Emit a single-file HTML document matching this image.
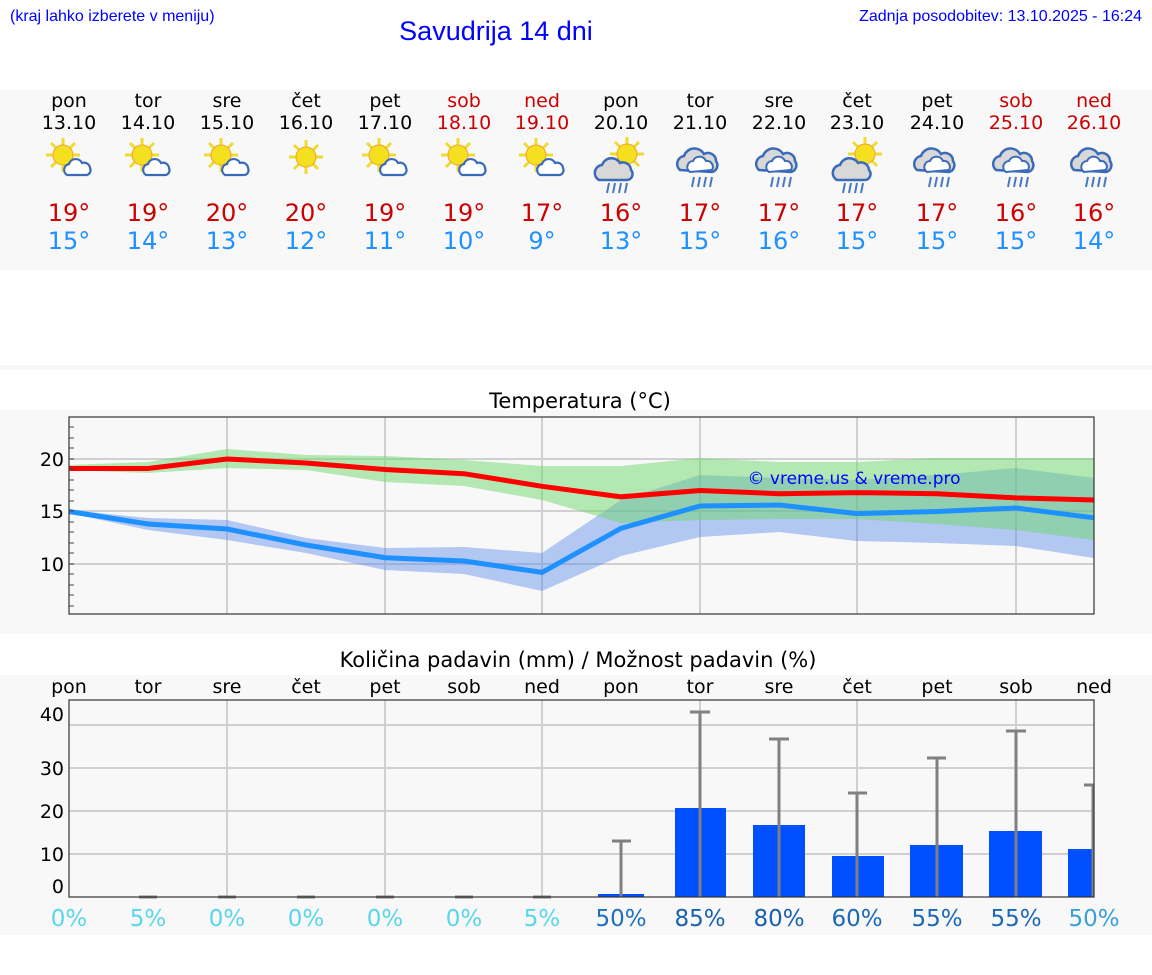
<!DOCTYPE html>
<html><head><meta charset="utf-8"><style>
body{margin:0;background:#fff;}
svg{display:block;font-family:"DejaVu Sans","Liberation Sans",sans-serif;}
</style></head><body>
<svg width="1152" height="975" viewBox="0 0 1152 975" xmlns="http://www.w3.org/2000/svg">
<defs>
<g id="sun"><g stroke="#f0dc30" stroke-width="3"><line x1="-17" y1="0" x2="17" y2="0"/><line x1="0" y1="-17" x2="0" y2="17"/><line x1="-12" y1="-12" x2="12" y2="12"/><line x1="-12" y1="12" x2="12" y2="-12"/></g><circle r="10" fill="#f5e020" stroke="#f0a030" stroke-width="1"/></g>
<g id="cw"><path d="M-12,8 a6,6 0 0 1 2,-11 a7,7 0 0 1 13,-1 a6,6 0 0 1 8,5 a5,5 0 0 1 -3,7 z" fill="#fff" stroke="#3a6ab8" stroke-width="2.2"/></g>
<g id="cg"><path d="M-16,10 a8,8 0 0 1 3,-15 a10,10 0 0 1 18,-2 a8,8 0 0 1 11,7 a6,6 0 0 1 -4,10 z" fill="#d8d8d8" stroke="#3a6ab8" stroke-width="2.5"/></g>
<g id="rain" stroke="#4a78c0" stroke-width="2"><line x1="-6" y1="15" x2="-8" y2="25"/><line x1="0" y1="15" x2="-2" y2="25"/><line x1="6" y1="15" x2="4" y2="25"/><line x1="12" y1="15" x2="10" y2="25"/></g>
<g id="ps"><use href="#sun" x="-6" y="-4"/><use href="#cw" x="10" y="8"/></g>
<g id="heavy"><use href="#rain" x="0" y="0"/><path d="M-20,8 a8,8 0 0 1 4,-14 a11,11 0 0 1 20,-2 a8,8 0 0 1 12,7 a7,7 0 0 1 -4,11 z" fill="#d8d8d8" stroke="#3a6ab8" stroke-width="2.5"/><path d="M-10,10 a6,6 0 0 1 3,-11 a7,7 0 0 1 13,0 a6,6 0 0 1 6,9 z" fill="#fff" stroke="#3a6ab8" stroke-width="2"/></g>
</defs>
<text x="10" y="21" font-size="16" fill="#0000ff" font-family="Liberation Sans,sans-serif">(kraj lahko izberete v meniju)</text>
<text x="496" y="40" font-size="27" fill="#0000ff" text-anchor="middle" font-family="Liberation Sans,sans-serif">Savudrija 14 dni</text>
<text x="1142" y="21" font-size="16" fill="#0000ff" text-anchor="end" font-family="Liberation Sans,sans-serif">Zadnja posodobitev: 13.10.2025 - 16:24</text>

<rect x="0" y="90" width="1152" height="180" fill="#f8f8f8"/>
<rect x="0" y="365" width="1152" height="5" fill="#f8f8f8"/>
<rect x="0" y="410" width="1152" height="224" fill="#f8f8f8"/>
<rect x="0" y="675" width="1152" height="260" fill="#f8f8f8"/>

<g font-size="19" text-anchor="middle" fill="#000">
<text x="69" y="107">pon</text><text x="148" y="107">tor</text><text x="227" y="107">sre</text><text x="306" y="107">čet</text><text x="385" y="107">pet</text><text x="464" y="107" fill="#cc0000">sob</text><text x="542" y="107" fill="#cc0000">ned</text><text x="621" y="107">pon</text><text x="700" y="107">tor</text><text x="779" y="107">sre</text><text x="857" y="107">čet</text><text x="937" y="107">pet</text><text x="1016" y="107" fill="#cc0000">sob</text><text x="1094" y="107" fill="#cc0000">ned</text>
<text x="69" y="129">13.10</text><text x="148" y="129">14.10</text><text x="227" y="129">15.10</text><text x="306" y="129">16.10</text><text x="385" y="129">17.10</text><text x="464" y="129" fill="#cc0000">18.10</text><text x="542" y="129" fill="#cc0000">19.10</text><text x="621" y="129">20.10</text><text x="700" y="129">21.10</text><text x="779" y="129">22.10</text><text x="857" y="129">23.10</text><text x="937" y="129">24.10</text><text x="1016" y="129" fill="#cc0000">25.10</text><text x="1094" y="129" fill="#cc0000">26.10</text>
</g>
<use href="#ps" x="69" y="159"/><use href="#ps" x="148" y="159"/><use href="#ps" x="227" y="159"/><use href="#sun" x="306" y="157"/><use href="#ps" x="385" y="159"/><use href="#ps" x="464" y="159"/><use href="#ps" x="542" y="159"/>
<g transform="translate(621,160)"><use href="#sun" x="6" y="-6"/><use href="#cg" x="-6" y="10"/><use href="#rain" x="-6" y="8"/></g>
<use href="#heavy" x="700" y="162"/><use href="#heavy" x="779" y="162"/>
<g transform="translate(857,160)"><use href="#sun" x="8" y="-6"/><use href="#rain" x="-6" y="8"/><use href="#cg" x="-4" y="10"/></g>
<use href="#heavy" x="937" y="162"/><use href="#heavy" x="1016" y="162"/><use href="#heavy" x="1094" y="162"/>

<g font-size="24" text-anchor="middle" fill="#cc0000">
<text x="69" y="221">19°</text><text x="148" y="221">19°</text><text x="227" y="221">20°</text><text x="306" y="221">20°</text><text x="385" y="221">19°</text><text x="464" y="221">19°</text><text x="542" y="221">17°</text><text x="621" y="221">16°</text><text x="700" y="221">17°</text><text x="779" y="221">17°</text><text x="857" y="221">17°</text><text x="937" y="221">17°</text><text x="1016" y="221">16°</text><text x="1094" y="221">16°</text>
</g>
<g font-size="24" text-anchor="middle" fill="#1e90ff">
<text x="69" y="249">15°</text><text x="148" y="249">14°</text><text x="227" y="249">13°</text><text x="306" y="249">12°</text><text x="385" y="249">11°</text><text x="464" y="249">10°</text><text x="542" y="249">9°</text><text x="621" y="249">13°</text><text x="700" y="249">15°</text><text x="779" y="249">16°</text><text x="857" y="249">15°</text><text x="937" y="249">15°</text><text x="1016" y="249">15°</text><text x="1094" y="249">14°</text>
</g>

<text x="580" y="408" font-size="21" text-anchor="middle">Temperatura (°C)</text>
<rect x="69" y="417" width="1025" height="197" fill="#f8f8f8"/>
<g stroke="#d0d0d0" stroke-width="2">
<line x1="69" y1="459" x2="1094" y2="459"/><line x1="69" y1="511" x2="1094" y2="511"/><line x1="69" y1="564" x2="1094" y2="564"/>
<line x1="227" y1="417" x2="227" y2="614"/><line x1="385" y1="417" x2="385" y2="614"/><line x1="542" y1="417" x2="542" y2="614"/><line x1="700" y1="417" x2="700" y2="614"/><line x1="857" y1="417" x2="857" y2="614"/><line x1="1016" y1="417" x2="1016" y2="614"/>
</g>
<polygon fill="rgba(80,130,230,0.42)" points="69,510 148,518 227,520 306,538 385,548 464,547 542,553 621,500 700,475 779,478 857,480 937,475 1016,468 1094,478 1094,558 1016,546 937,543 857,541 779,532 700,537 621,556 542,591 464,574 385,570 306,553 227,540 148,530 69,513"/>
<polygon fill="rgba(110,215,110,0.5)" points="69,465 148,462 227,449 306,455 385,456 464,460 542,466 621,466 700,458 779,462 857,462 937,458 1016,458 1094,458 1094,540 1016,530 937,524 857,519 779,519 700,520 621,523 542,500 464,486 385,482 306,470 227,468 148,473 69,470"/>
<polyline fill="none" stroke="#ff0000" stroke-width="5" points="69,468.5 148,468.5 227,459 306,463 385,469.5 464,473.7 542,486.3 621,496.8 700,490.5 779,493.7 857,492.6 937,493.7 1016,497.9 1094,500"/>
<polyline fill="none" stroke="#1e90ff" stroke-width="5" points="69,511.5 148,524 227,529 306,545 385,557.7 464,561 542,572.4 621,528.3 700,506 779,505 857,513.6 937,511.5 1016,508 1094,517.8"/>
<text x="854" y="484" font-size="17" fill="#0000ff" text-anchor="middle">© vreme.us &amp; vreme.pro</text>
<rect x="69" y="417" width="1025" height="197" fill="none" stroke="#333" stroke-width="1.2"/>
<g stroke="#444" stroke-width="1">
<line x1="69" y1="427" x2="74" y2="427"/><line x1="69" y1="438" x2="74" y2="438"/><line x1="69" y1="448" x2="74" y2="448"/><line x1="69" y1="459" x2="74" y2="459"/><line x1="69" y1="469" x2="74" y2="469"/><line x1="69" y1="480" x2="74" y2="480"/><line x1="69" y1="490" x2="74" y2="490"/><line x1="69" y1="501" x2="74" y2="501"/><line x1="69" y1="511" x2="74" y2="511"/><line x1="69" y1="522" x2="74" y2="522"/><line x1="69" y1="532" x2="74" y2="532"/><line x1="69" y1="543" x2="74" y2="543"/><line x1="69" y1="553" x2="74" y2="553"/><line x1="69" y1="564" x2="74" y2="564"/><line x1="69" y1="574" x2="74" y2="574"/><line x1="69" y1="585" x2="74" y2="585"/><line x1="69" y1="595" x2="74" y2="595"/><line x1="69" y1="606" x2="74" y2="606"/>
</g>
<g font-size="19" text-anchor="end"><text x="64" y="466">20</text><text x="64" y="518">15</text><text x="64" y="571">10</text></g>

<text x="578" y="667" font-size="21" text-anchor="middle">Količina padavin (mm) / Možnost padavin (%)</text>
<g font-size="19" text-anchor="middle">
<text x="69" y="693">pon</text><text x="148" y="693">tor</text><text x="227" y="693">sre</text><text x="306" y="693">čet</text><text x="385" y="693">pet</text><text x="464" y="693">sob</text><text x="542" y="693">ned</text><text x="621" y="693">pon</text><text x="700" y="693">tor</text><text x="779" y="693">sre</text><text x="857" y="693">čet</text><text x="937" y="693">pet</text><text x="1016" y="693">sob</text><text x="1094" y="693">ned</text>
</g>
<rect x="69" y="700" width="1025" height="197" fill="#f8f8f8"/>
<g stroke="#d0d0d0" stroke-width="2">
<line x1="69" y1="725" x2="1094" y2="725"/><line x1="69" y1="768" x2="1094" y2="768"/><line x1="69" y1="811" x2="1094" y2="811"/><line x1="69" y1="854" x2="1094" y2="854"/>
<line x1="227" y1="700" x2="227" y2="897"/><line x1="385" y1="700" x2="385" y2="897"/><line x1="542" y1="700" x2="542" y2="897"/><line x1="700" y1="700" x2="700" y2="897"/><line x1="857" y1="700" x2="857" y2="897"/><line x1="1016" y1="700" x2="1016" y2="897"/>
</g>
<g fill="#0050ff">
<rect x="598" y="894" width="46" height="3"/><rect x="675" y="808" width="51" height="89"/><rect x="753" y="825" width="52" height="72"/><rect x="832" y="856" width="52" height="41"/><rect x="910" y="845" width="53" height="52"/><rect x="989" y="831" width="53" height="66"/><rect x="1068" y="849" width="26" height="48"/>
</g>
<g stroke="#808080" stroke-width="3">
<line x1="621" y1="897" x2="621" y2="841"/><line x1="612" y1="841" x2="631" y2="841"/>
<line x1="700" y1="897" x2="700" y2="712"/><line x1="690" y1="712" x2="710" y2="712"/>
<line x1="779" y1="897" x2="779" y2="739"/><line x1="769" y1="739" x2="789" y2="739"/>
<line x1="857" y1="897" x2="857" y2="793"/><line x1="848" y1="793" x2="867" y2="793"/>
<line x1="937" y1="897" x2="937" y2="758"/><line x1="927" y1="758" x2="946" y2="758"/>
<line x1="1016" y1="897" x2="1016" y2="731"/><line x1="1006" y1="731" x2="1026" y2="731"/>
<line x1="1093" y1="897" x2="1093" y2="785"/><line x1="1084" y1="785" x2="1094" y2="785"/>
<line x1="139" y1="897" x2="157" y2="897"/><line x1="218" y1="897" x2="236" y2="897"/><line x1="297" y1="897" x2="315" y2="897"/><line x1="376" y1="897" x2="394" y2="897"/><line x1="455" y1="897" x2="473" y2="897"/><line x1="533" y1="897" x2="551" y2="897"/>
</g>
<rect x="69" y="700" width="1025" height="197" fill="none" stroke="#333" stroke-width="1.2"/>
<g font-size="19" text-anchor="end"><text x="64" y="721">40</text><text x="64" y="775">30</text><text x="64" y="818">20</text><text x="64" y="861">10</text><text x="64" y="893">0</text></g>
<g font-size="23" text-anchor="middle">
<text x="69" y="926" fill="#5ad6ea">0%</text><text x="148" y="926" fill="#5ad6ea">5%</text><text x="227" y="926" fill="#5ad6ea">0%</text><text x="306" y="926" fill="#5ad6ea">0%</text><text x="385" y="926" fill="#5ad6ea">0%</text><text x="464" y="926" fill="#5ad6ea">0%</text><text x="542" y="926" fill="#5ad6ea">5%</text>
<text x="621" y="926" fill="#1e70c0">50%</text><text x="700" y="926" fill="#1a60b0">85%</text><text x="779" y="926" fill="#1a60b0">80%</text><text x="857" y="926" fill="#1a68b8">60%</text><text x="937" y="926" fill="#1a68b8">55%</text><text x="1016" y="926" fill="#1a68b8">55%</text><text x="1094" y="926" fill="#3aa0d8">50%</text>
</g>
</svg>
</body></html>
